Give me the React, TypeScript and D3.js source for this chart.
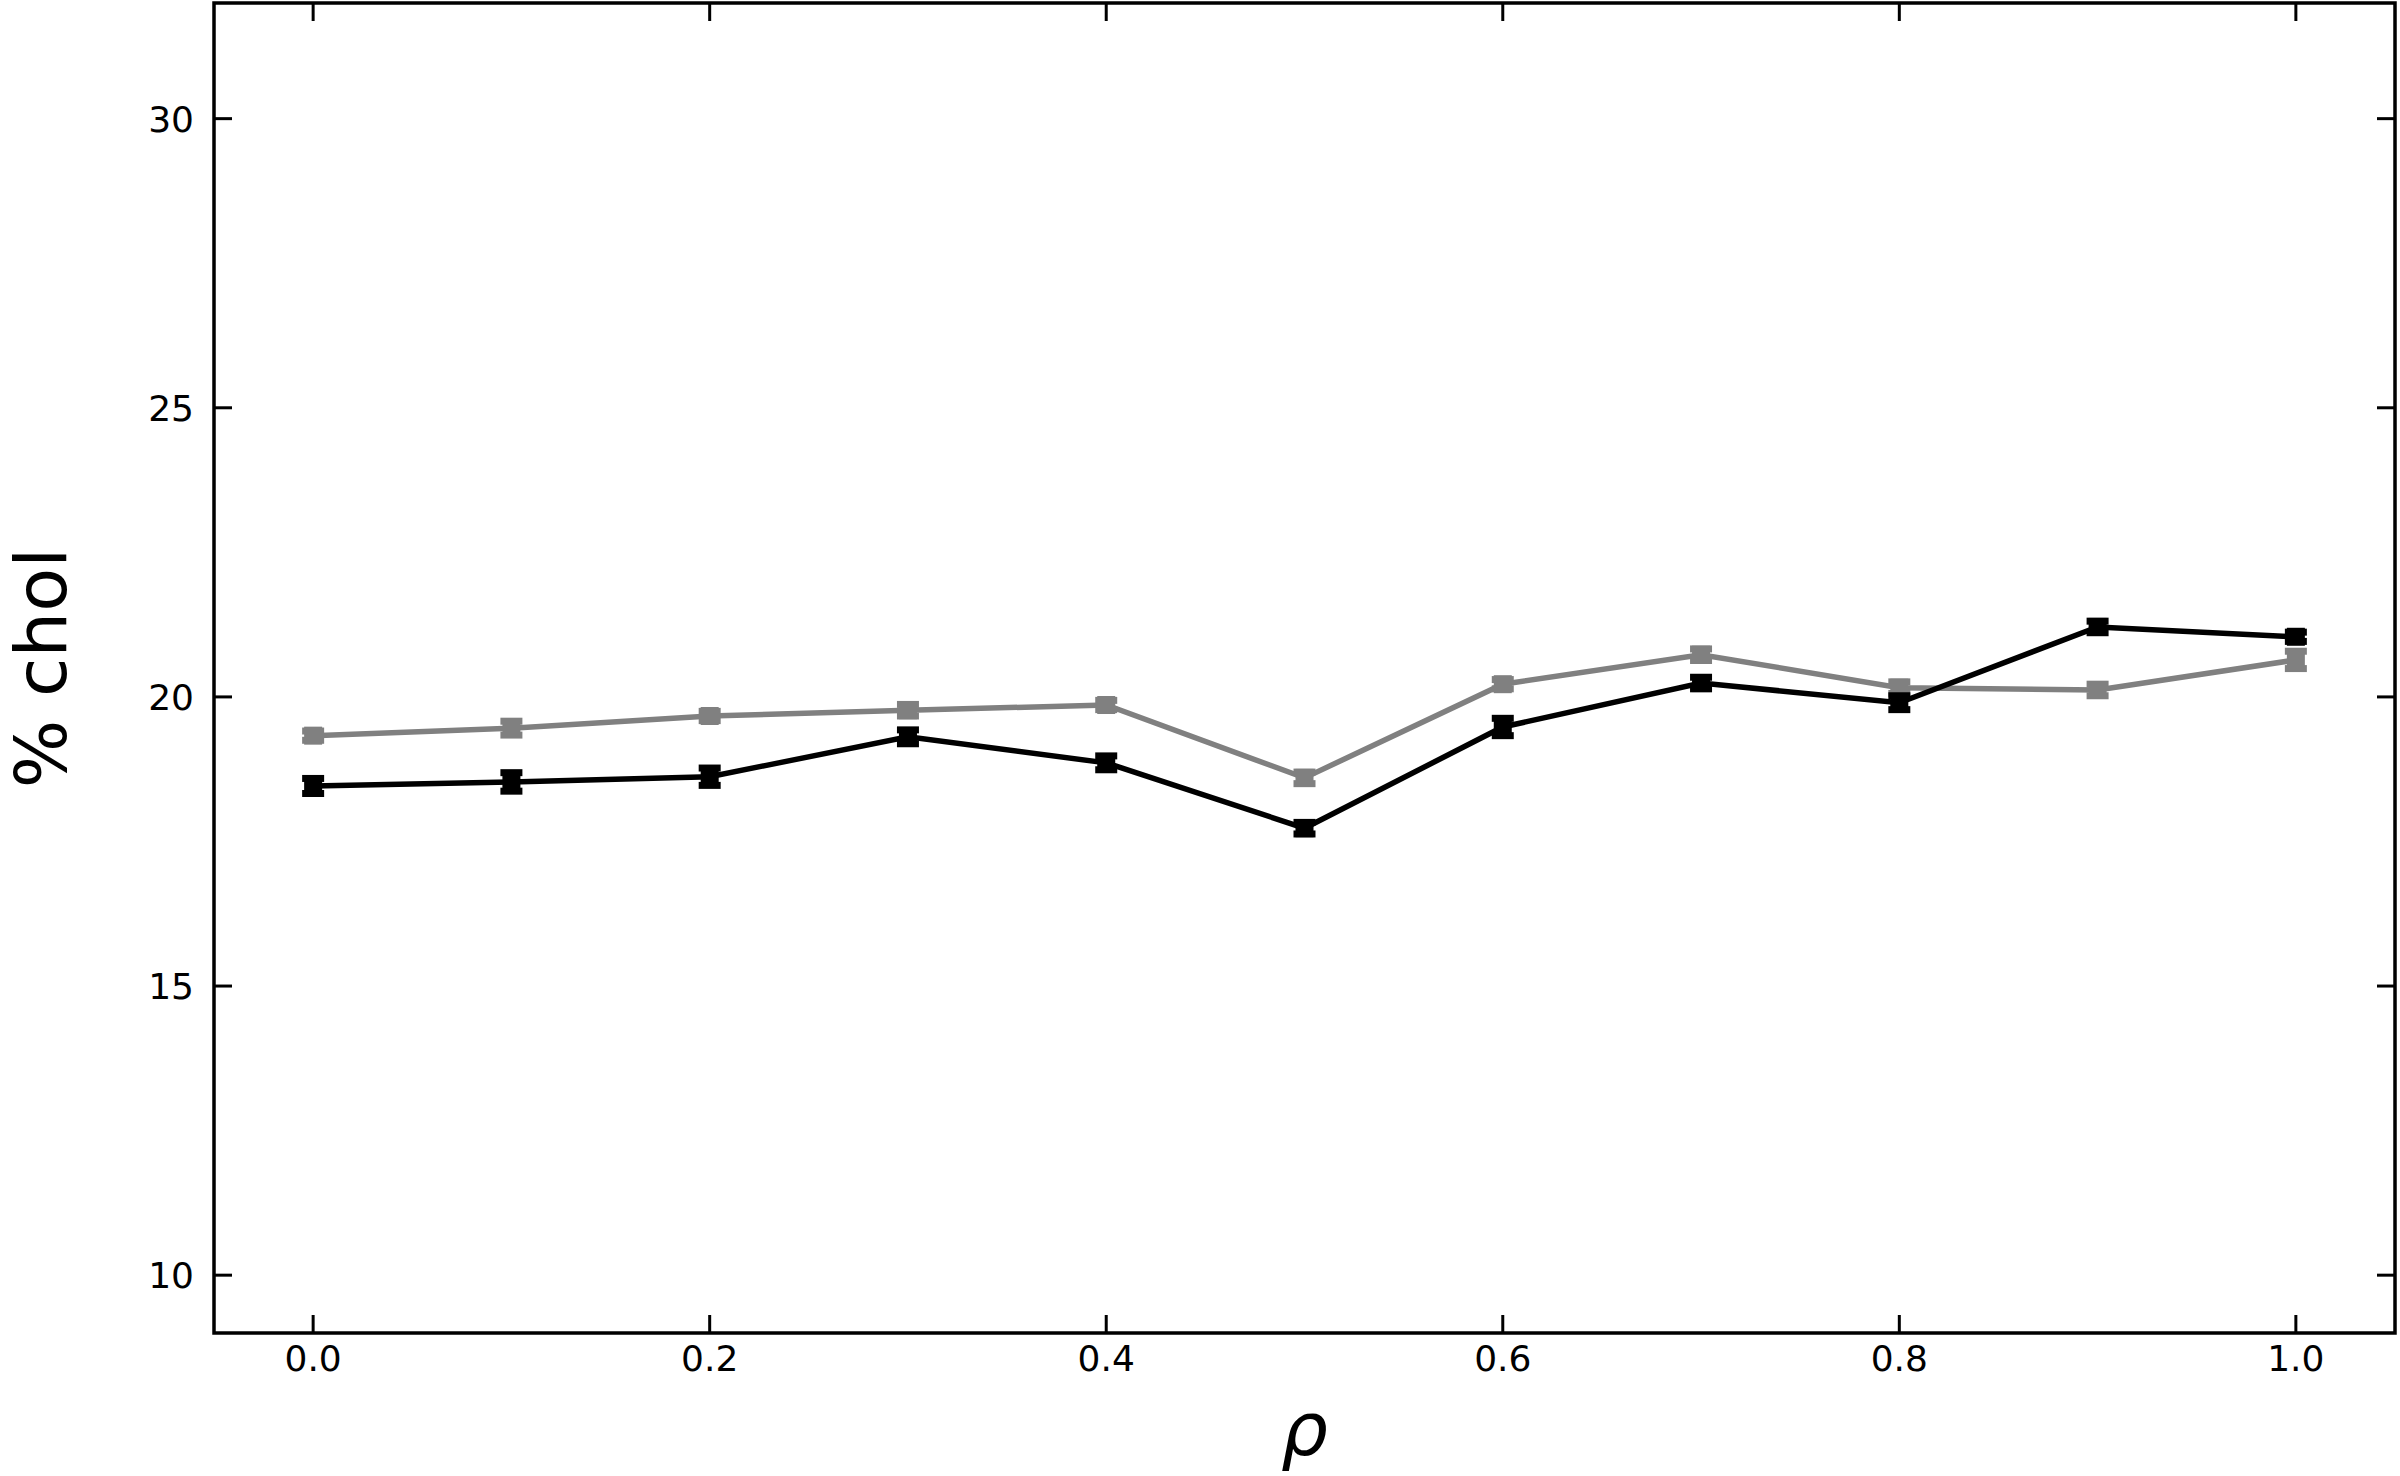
import React from "react";
import * as d3 from "d3";

const rho = [0.0, 0.1, 0.2, 0.3, 0.4, 0.5, 0.6, 0.7, 0.8, 0.9, 1.0];
const blackValues = [18.46, 18.53, 18.62, 19.31, 18.86, 17.73, 19.48, 20.24, 19.9, 21.21, 21.04];
const blackErrors = [0.13, 0.16, 0.15, 0.12, 0.12, 0.1, 0.15, 0.1, 0.12, 0.1, 0.08];
const grayValues = [19.33, 19.46, 19.67, 19.77, 19.86, 18.6, 20.22, 20.73, 20.16, 20.12, 20.64];
const grayErrors = [0.08, 0.12, 0.08, 0.1, 0.08, 0.1, 0.08, 0.1, 0.1, 0.1, 0.15];
const xTicks = [0.0, 0.2, 0.4, 0.6, 0.8, 1.0];
const yTicks = [10, 15, 20, 25, 30];

const W = 2400;
const H = 1476;
const left = 214;
const top = 3;
const right = 2395;
const bottom = 1333;

export default function App() {
  const x = d3.scaleLinear().domain([-0.05, 1.05]).range([left, right]);
  const y = d3.scaleLinear().domain([9, 32]).range([bottom, top]);
  const line = d3
    .line<number>()
    .x((_, i) => x(rho[i]))
    .y((d) => y(d));

  const font = "DejaVu Sans, sans-serif";
  const tickLen = 18;

  const series = [
    { vals: grayValues, errs: grayErrors, color: "#808080" },
    { vals: blackValues, errs: blackErrors, color: "#000000" },
  ];

  return (
    <div style={{ position: "absolute", left: 0, top: 0 }}>
      <svg width={W} height={H} viewBox={`0 0 ${W} ${H}`} style={{ display: "block", background: "#fff" }}>
        {series.map((s, si) => (
          <g key={si}>
            <path d={line(s.vals) || ""} fill="none" stroke={s.color} strokeWidth={5.5} strokeLinejoin="miter" />
            {s.vals.map((v, i) => {
              const cx = x(rho[i]);
              const y1 = y(v + s.errs[i]);
              const y2 = y(v - s.errs[i]);
              return (
                <g key={i}>
                  <line x1={cx} x2={cx} y1={y1} y2={y2} stroke={s.color} strokeWidth={4} />
                  <line x1={cx - 11} x2={cx + 11} y1={y1} y2={y1} stroke={s.color} strokeWidth={7} />
                  <line x1={cx - 11} x2={cx + 11} y1={y2} y2={y2} stroke={s.color} strokeWidth={7} />
                  <rect x={cx - 9} y={y(v) - 9} width={18} height={18} fill={s.color} />
                </g>
              );
            })}
          </g>
        ))}

        {/* frame */}
        <rect x={left} y={top} width={right - left} height={bottom - top} fill="none" stroke="#000" strokeWidth={3.5} />

        {/* x ticks */}
        {xTicks.map((t) => (
          <g key={"x" + t}>
            <line x1={x(t)} x2={x(t)} y1={bottom} y2={bottom - tickLen} stroke="#000" strokeWidth={3} />
            <line x1={x(t)} x2={x(t)} y1={top} y2={top + tickLen} stroke="#000" strokeWidth={3} />
            <text x={x(t)} y={1371} textAnchor="middle" fontFamily={font} fontSize={36} fill="#000">
              {t.toFixed(1)}
            </text>
          </g>
        ))}

        {/* y ticks */}
        {yTicks.map((t) => (
          <g key={"y" + t}>
            <line x1={left} x2={left + tickLen} y1={y(t)} y2={y(t)} stroke="#000" strokeWidth={3} />
            <line x1={right} x2={right - tickLen} y1={y(t)} y2={y(t)} stroke="#000" strokeWidth={3} />
            <text x={194} y={y(t)} dy="0.36em" textAnchor="end" fontFamily={font} fontSize={36} fill="#000">
              {t}
            </text>
          </g>
        ))}

        {/* axis labels */}
        <text x={x(0.5)} y={1455} textAnchor="middle" fontFamily={font} fontStyle="italic" fontSize={74} fill="#000">
          ρ
        </text>
        <text
          transform={`translate(66, ${(top + bottom) / 2}) rotate(-90)`}
          textAnchor="middle"
          fontFamily={font}
          fontSize={72}
          fill="#000"
        >
          % chol
        </text>
      </svg>
    </div>
  );
}
